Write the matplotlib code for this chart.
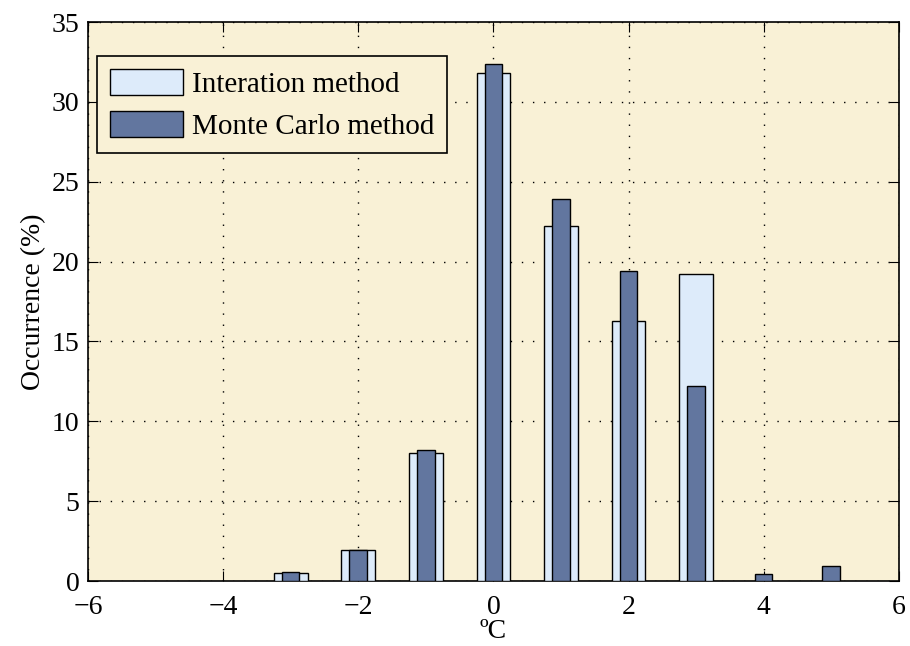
import matplotlib
matplotlib.use("Agg")
import matplotlib.pyplot as plt
from matplotlib.patches import Patch

x_iter = [-3, -2, -1, 0, 1, 2, 3]
iteration = [0.5, 1.95, 8.0, 31.8, 22.2, 16.3, 19.2]
x_mc = [-3, -2, -1, 0, 1, 2, 3, 4, 5]
monte_carlo = [0.55, 1.95, 8.2, 32.4, 23.9, 19.4, 12.2, 0.45, 0.95]
xticks = [-6, -4, -2, 0, 2, 4, 6]
yticks = [0, 5, 10, 15, 20, 25, 30, 35]

plt.rcParams['font.family'] = ['Liberation Serif', 'DejaVu Serif']
plt.rcParams['font.size'] = 20

fig = plt.figure(figsize=(9.1, 6.46), dpi=100)
ax = fig.add_axes([0.0967, 0.1006, 0.891, 0.8653])
bg = '#F9F1D6'
ax.set_facecolor(bg)
light = '#DDEBFA'
dark = '#62769F'

ax.bar(x_iter, iteration, width=0.5, color=light, edgecolor='black', linewidth=1.0, zorder=3,
       label='Interation method')
ax.bar(x_mc, monte_carlo, width=0.26, color=dark, edgecolor='black', linewidth=1.0, zorder=4,
       label='Monte Carlo method')

ax.set_xlim(-6, 6)
ax.set_ylim(0, 35)
ax.set_xticks(xticks)
ax.set_yticks(yticks)
ax.set_xticklabels([str(t).replace('-', '\u2212') for t in xticks])
ax.grid(True, linestyle=(0, (1, 7)), color='black', linewidth=1.0, zorder=1)
ax.tick_params(direction='in', top=True, right=True, length=7, labelsize=20)
ax.tick_params(axis='x', pad=10)
ax.tick_params(axis='y', pad=6)
for s in ax.spines.values():
    s.set_linewidth(1.2)
ax.set_xlabel('ºC', fontsize=20, labelpad=-1)
ax.set_ylabel('Occurrence (%)', fontsize=20, labelpad=4)

handles = [Patch(facecolor=light, edgecolor='black', linewidth=1.0, label='Interation method'),
           Patch(facecolor=dark, edgecolor='black', linewidth=1.0, label='Monte Carlo method')]
leg = ax.legend(handles=handles, loc='upper left', bbox_to_anchor=(0.011, 0.939), fontsize=21,
                fancybox=False, edgecolor='black', facecolor=bg, framealpha=1,
                handlelength=2.5, handleheight=1.0, borderpad=0.45, labelspacing=0.42,
                handletextpad=0.3, borderaxespad=0.0)
leg.get_frame().set_linewidth(1.2)

fig.savefig('out.png', dpi=100)
